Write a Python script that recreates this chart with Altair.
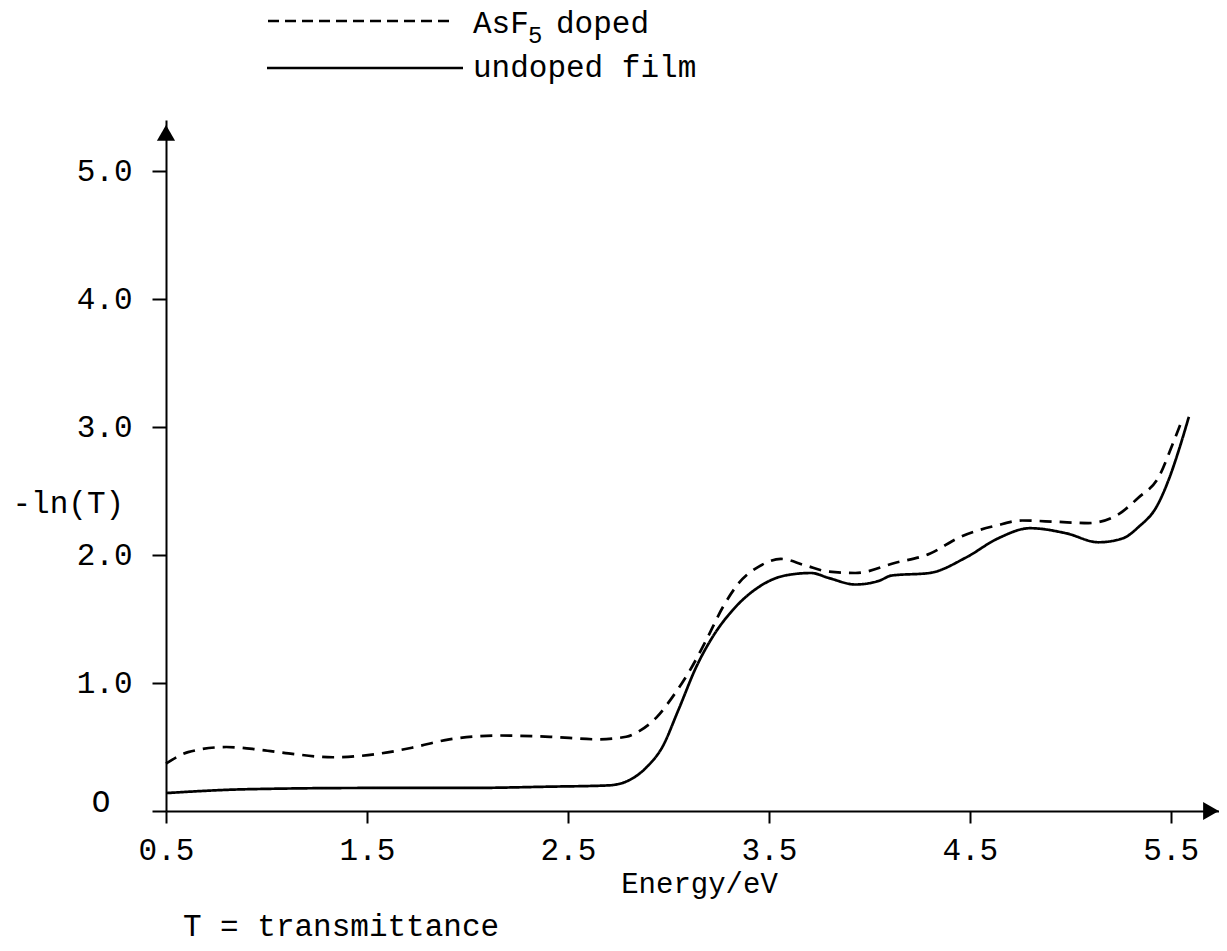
import altair as alt
import pandas as pd

# ---- data ----
energy_undoped = [0.50, 0.90, 1.50, 2.00, 2.40, 2.70, 2.79, 2.89, 2.97, 3.05, 3.14, 3.22,
                  3.32, 3.44, 3.58, 3.71, 3.80, 3.93, 4.05, 4.11, 4.30, 4.48, 4.64, 4.80,
                  4.98, 5.14, 5.26, 5.34, 5.43, 5.49, 5.54, 5.59]
absorb_undoped = [0.14, 0.17, 0.18, 0.18, 0.19, 0.20, 0.23, 0.34, 0.50, 0.79, 1.13, 1.36,
                  1.57, 1.74, 1.84, 1.86, 1.82, 1.77, 1.80, 1.84, 1.86, 1.98, 2.13, 2.21,
                  2.17, 2.10, 2.13, 2.22, 2.38, 2.59, 2.82, 3.08]

energy_doped = [0.50, 0.61, 0.80, 0.96, 1.11, 1.33, 1.57, 1.74, 1.91, 2.16, 2.41, 2.65,
                2.79, 2.85, 2.94, 3.02, 3.10, 3.19, 3.27, 3.35, 3.45, 3.56, 3.68, 3.80,
                3.93, 4.13, 4.30, 4.45, 4.63, 4.76, 4.93, 5.09, 5.23, 5.34, 5.44, 5.51, 5.55]
absorb_doped = [0.37, 0.46, 0.50, 0.48, 0.45, 0.42, 0.45, 0.50, 0.56, 0.59, 0.58, 0.56,
                0.58, 0.62, 0.73, 0.89, 1.08, 1.34, 1.59, 1.78, 1.91, 1.97, 1.92, 1.87,
                1.86, 1.94, 2.01, 2.14, 2.23, 2.27, 2.26, 2.25, 2.31, 2.45, 2.61, 2.87, 3.03]

series_names = ["AsF5 doped", "undoped film"]
x_ticks = [0.5, 1.5, 2.5, 3.5, 4.5, 5.5]
y_ticks = [0, 1, 2, 3, 4, 5]

FONT = "Liberation Mono"
FS = 31

df = pd.concat([
    pd.DataFrame({"E": energy_doped, "A": absorb_doped, "series": series_names[0]}),
    pd.DataFrame({"E": energy_undoped, "A": absorb_undoped, "series": series_names[1]}),
], ignore_index=True)

xs = alt.Scale(domain=[0.5, 5.74], nice=False, zero=False)
ys = alt.Scale(domain=[0, 5.4], nice=False, zero=False)

x_axis = alt.Axis(
    values=x_ticks, format=".1f", grid=False, labelFlush=False,
    domainColor="black", domainWidth=2, tickColor="black", tickWidth=2, tickSize=12,
    labelFont=FONT, labelFontSize=FS, labelColor="black", labelPadding=12,
    title="Energy/eV", titleFont=FONT, titleFontSize=29, titleFontWeight="normal",
    titleColor="black", titleX=533, titleY=72, titleAlign="center", titleBaseline="middle",
)
y_axis = alt.Axis(
    values=y_ticks, grid=False,
    labelExpr="datum.value == 0 ? '' : format(datum.value, '.1f')",
    domainColor="black", domainWidth=2, tickColor="black", tickWidth=2, tickSize=14,
    labelFont=FONT, labelFontSize=FS, labelColor="black", labelPadding=20,
    title="-ln(T)", titleFont=FONT, titleFontSize=FS, titleFontWeight="normal",
    titleColor="black", titleAngle=0, titleAlign="left", titleBaseline="middle",
    titleX=-154, titleY=383,
)

lines = alt.Chart(df).mark_line(interpolate="monotone", strokeWidth=2.7, color="black").encode(
    x=alt.X("E:Q", scale=xs, axis=x_axis),
    y=alt.Y("A:Q", scale=ys, axis=y_axis),
    strokeDash=alt.StrokeDash("series:N", scale=alt.Scale(domain=series_names,
                                                          range=[[12, 8], [1, 0]]), legend=None),
    detail="series:N",
)

# arrow heads at the ends of the axes
arrow_up = alt.Chart(pd.DataFrame({"E": [0.5], "A": [5.3]})).mark_point(
    shape="triangle-up", filled=True, color="black", size=330, opacity=1
).encode(x=alt.X("E:Q", scale=xs), y=alt.Y("A:Q", scale=ys))
arrow_right = alt.Chart(pd.DataFrame({"E": [5.70], "A": [0.0]})).mark_point(
    shape="triangle-right", filled=True, color="black", size=330, opacity=1
).encode(x=alt.X("E:Q", scale=xs), y=alt.Y("A:Q", scale=ys))

zero_label = alt.Chart(pd.DataFrame({"A": [0.0]})).mark_text(
    text="O", font=FONT, fontSize=FS, color="black", align="center", baseline="middle", dy=-8
).encode(x=alt.value(-65), y=alt.Y("A:Q", scale=ys))

# manual legend
leg_dash = alt.Chart(pd.DataFrame({"k": [0]})).mark_rule(
    color="black", strokeWidth=2.4, strokeDash=[11, 6]
).encode(x=alt.value(102), x2=alt.value(284), y=alt.value(-99))
leg_solid = alt.Chart(pd.DataFrame({"k": [0]})).mark_rule(
    color="black", strokeWidth=2.4
).encode(x=alt.value(101), x2=alt.value(297), y=alt.value(-52))

def txt(s, x, y, size=FS, align="left", baseline="middle"):
    return alt.Chart(pd.DataFrame({"k": [0]})).mark_text(
        text=s, font=FONT, fontSize=size, color="black", align=align, baseline=baseline
    ).encode(x=alt.value(x), y=alt.value(y))

leg_t1 = txt("AsF", 307, -96)
leg_t2 = txt("5", 362, -84, size=24)
leg_t3 = txt("doped", 390, -96)
leg_t4 = txt("undoped film", 307, -52)
footnote = txt("T = transmittance", 175, 816, align="center", baseline="alphabetic")

chart = alt.layer(
    lines, arrow_up, arrow_right, zero_label,
    leg_dash, leg_solid, leg_t1, leg_t2, leg_t3, leg_t4, footnote,
).properties(
    width=1053, height=691,
    autosize=alt.AutoSizeParams(type="none"),
    padding={"left": 158, "top": 112, "right": 0, "bottom": 136},
    background="white",
).configure_view(stroke=None)

chart.save("out.html", embed_options={"renderer": "svg", "actions": False})
